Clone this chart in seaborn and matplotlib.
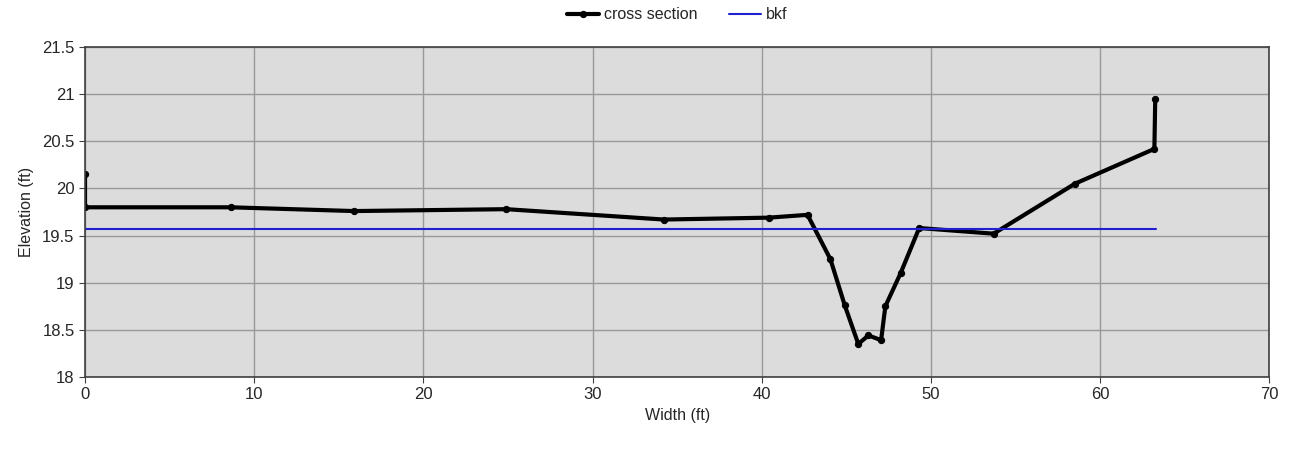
import numpy as np
import pandas as pd
import matplotlib
matplotlib.use("Agg")
import matplotlib.pyplot as plt
import seaborn as sns

# Cross section survey points
width = [0.0, 0.0, 8.6, 15.9, 24.9, 34.2, 40.4, 42.7, 44.05, 44.9, 45.7,
         46.3, 47.05, 47.3, 48.2, 49.3, 53.7, 58.5, 63.2, 63.25]
elevation = [20.15, 19.8, 19.8, 19.76, 19.78, 19.67, 19.69, 19.72, 19.25, 18.76, 18.35,
             18.44, 18.39, 18.75, 19.1, 19.58, 19.52, 20.05, 20.42, 20.95]

# Bankfull line
bkf_width = [0.0, 63.3]
bkf_elev = [19.57, 19.57]

xs = pd.DataFrame({"Width": width, "Elevation": elevation})
bkf = pd.DataFrame({"Width": bkf_width, "Elevation": bkf_elev})

sns.set_style("white")
plt.rcParams["font.family"] = ["Liberation Sans", "DejaVu Sans"]

fig = plt.figure(figsize=(12.98, 4.53), dpi=100)
ax = fig.add_axes([0.0655, 0.168, 0.9125, 0.728])
ax.set_facecolor("#dcdcdc")

sns.lineplot(data=xs, x="Width", y="Elevation", sort=False, estimator=None,
             color="black", linewidth=3, marker="o", markersize=4.5,
             markeredgecolor="black", label="cross section", ax=ax)
sns.lineplot(data=bkf, x="Width", y="Elevation", sort=False, estimator=None,
             color="#2020d0", linewidth=1.5, label="bkf", ax=ax)

ax.set_xlim(0, 70)
ax.set_ylim(18, 21.5)
ax.set_xticks(range(0, 71, 10))
ax.set_yticks(np.arange(18, 21.51, 0.5))
ax.set_yticklabels(["18", "18.5", "19", "19.5", "20", "20.5", "21", "21.5"])
ax.grid(True, color="#999999", linewidth=1)
ax.set_axisbelow(True)
for s in ax.spines.values():
    s.set_color("#404040")
    s.set_linewidth(1.2)
ax.tick_params(axis="both", labelsize=12, length=4, direction="out", color="#404040",
               bottom=True, left=True)
ax.set_xlabel("Width (ft)", fontsize=11.5, labelpad=4)
ax.set_ylabel("Elevation (ft)", fontsize=11.5, labelpad=6)

ax.legend(loc="lower center", bbox_to_anchor=(0.5, 1.075), ncol=2, frameon=False,
          fontsize=11.5, handlelength=2.0, handletextpad=0.3, columnspacing=2.0,
          borderaxespad=0.0, borderpad=0.0)

fig.savefig("out.png", dpi=100)
